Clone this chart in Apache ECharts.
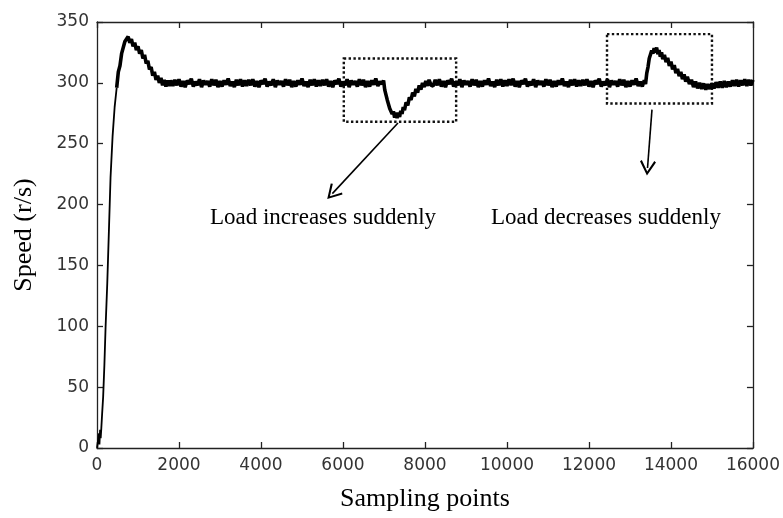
<!DOCTYPE html>
<html>
<head>
<meta charset="utf-8">
<title>Speed response</title>
<script src="https://cdn.jsdelivr.net/npm/echarts@6/dist/echarts.min.js"></script>
<style>
  html, body { margin: 0; padding: 0; background: #fff; }
  #chart { width: 783px; height: 518px; }
</style>
</head>
<body>
<div id="chart"></div>
<script>
// Axis ticks
const xTicks = [0, 2000, 4000, 6000, 8000, 10000, 12000, 14000, 16000];
const yTicks = [0, 50, 100, 150, 200, 250, 300, 350];

// Speed trace [sampling point, speed r/s], split by phase
const rampTrace = [[0,0],[30,0],[50,12],[60,3],[75,15],[90,8],[105,16],[125,28],[150,42],[180,68],[210,100],[250,135],[290,178],[330,222],[380,256],[430,280],[480,296]];

const overshootTrace = [[480,296],[520,309],[560,314],[600,324],[640,325],[680,334],[720,333],[760,338],[800,333],[840,336],[880,330],[920,333],[960,327],[1000,330],[1040,324],[1080,327],[1120,320],[1160,323],[1200,316],[1240,318],[1280,311],[1320,313],[1360,306],[1400,309],[1440,302.5],[1480,306],[1520,300],[1560,304],[1600,298],[1640,302.5],[1680,297],[1720,302],[1760,297.5],[1800,302]];

const steadyTraceA = [[1850,297.5],[1900,302.5],[1950,298],[2000,303],[2050,297],[2100,301.5],[2150,296.5],[2200,302],[2250,299],[2300,303.5],[2350,297],[2400,301],
  [2450,298],[2500,303],[2550,296.5],[2600,302],[2650,298.5],[2700,301.5],[2750,297],[2800,303],[2850,298],[2900,302.5],[2950,296.5],[3000,301.5],
  [3050,297],[3100,302],[3150,298.5],[3200,303.5],[3250,297.5],[3300,301],[3350,296.5],[3400,302.5],[3450,298],[3500,303],[3550,297],[3600,302],
  [3650,297.5],[3700,302.5],[3750,298],[3800,303],[3850,297],[3900,301.5],[3950,296.5],[4000,302],[4050,299],[4100,303.5],[4150,297],[4200,301],
  [4250,298],[4300,303],[4350,296.5],[4400,302],[4450,298.5],[4500,301.5],[4550,297],[4600,303],[4650,298],[4700,302.5],[4750,296.5],[4800,301.5],
  [4850,297],[4900,302],[4950,298.5],[5000,303.5],[5050,297.5],[5100,301],[5150,296.5],[5200,302.5],[5250,298],[5300,303],[5350,297],[5400,302],
  [5450,297.5],[5500,302.5],[5550,298],[5600,303],[5650,297],[5700,301.5],[5750,296.5],[5800,302],[5850,299],[5900,303.5],[5950,297],[6000,301],
  [6050,298],[6100,303],[6150,296.5],[6200,302],[6250,298.5],[6300,301.5],[6350,297],[6400,303],[6450,298],[6500,302.5],[6550,296.5],[6600,301.5],
  [6650,297],[6700,302],[6750,298.5],[6800,303.5],[6850,297.5],[6900,301],[6950,299]];

const loadIncreaseTrace = [[6990,302],[7020,294],[7050,293],[7080,286],[7110,286],[7140,279],[7170,280],[7200,274.5],[7230,276.5],[7260,271.5],[7290,275.5],[7320,271],[7350,275.5],[7380,272],[7410,277],[7440,274.5],[7470,280],[7500,277.5],[7540,284],[7580,281.5],[7620,288],[7660,286],[7700,292],[7740,289],[7780,295],[7820,292],[7860,298],[7900,294.5],[7940,300],[7980,296.5],[8020,301.5],[8060,297.5],[8100,302.5]];

const steadyTraceB = [[8150,298],[8200,297.5],[8250,302.5],[8300,298],[8350,303],[8400,297],[8450,301.5],[8500,296.5],[8550,302],[8600,299],[8650,303.5],[8700,297],[8750,301],
  [8800,298],[8850,303],[8900,296.5],[8950,302],[9000,298.5],[9050,301.5],[9100,297],[9150,303],[9200,298],[9250,302.5],[9300,296.5],[9350,301.5],
  [9400,297],[9450,302],[9500,298.5],[9550,303.5],[9600,297.5],[9650,301],[9700,296.5],[9750,302.5],[9800,298],[9850,303],[9900,297],[9950,302],
  [10000,297.5],[10050,303],[10100,298],[10150,303.5],[10200,297],[10250,301.5],[10300,296.5],[10350,302],[10400,299],[10450,303.5],[10500,297],[10550,301],
  [10600,298],[10650,303],[10700,296.5],[10750,302],[10800,298.5],[10850,301.5],[10900,297],[10950,303],[11000,298],[11050,302.5],[11100,296.5],[11150,301.5],
  [11200,297],[11250,302],[11300,298.5],[11350,303.5],[11400,297.5],[11450,301],[11500,296.5],[11550,302.5],[11600,298],[11650,303],[11700,297],[11750,302],
  [11800,297.5],[11850,302.5],[11900,298],[11950,303],[12000,297],[12050,301.5],[12100,296.5],[12150,302],[12200,299],[12250,303.5],[12300,297],[12350,301],
  [12400,298],[12450,303],[12500,296.5],[12550,302],[12600,298.5],[12650,301.5],[12700,297],[12750,303],[12800,298],[12850,302.5],[12900,296.5],[12950,301.5],
  [13000,297],[13050,302],[13100,298.5],[13150,303.5],[13200,297.5],[13250,301],[13300,297],[13350,302]];

const loadDecreaseTrace = [[13380,299],[13410,308],[13440,313],[13470,320],[13500,321],[13530,326.5],[13560,324],[13590,328.5],[13620,325],[13650,329],[13680,323.5],[13710,327],[13740,321.5],[13770,325],[13800,319.5],[13840,323],[13880,317],[13920,320.5],[13960,314],[14000,317.5],[14040,311],[14080,314.5],[14120,308],[14160,311.5],[14200,305.5],[14240,309],[14280,303],[14320,307],[14360,301],[14400,305],[14450,299],[14500,302.5],[14550,296.5],[14600,301],[14650,295.5],[14700,300],[14750,295],[14800,299.5],[14850,294.5],[14900,299],[14950,295],[15000,299.5]];

const tailTrace = [[15050,295.5],[15100,300.5],[15150,296],[15200,301],[15250,296],[15300,301.5],[15350,296.5],[15400,301],[15450,297],[15500,302],[15550,297.5],[15600,302.5],[15650,297],[15700,302],[15750,298],[15800,303],[15850,297.5],[15900,302.5],[15950,298],[16000,302.5]];

// Dotted boxes around the load disturbances: [x0, x1, yTop, yBottom]
const increaseBox = [6020, 8760, 320, 268];
const decreaseBox = [12440, 15000, 340, 283];

// Annotation arrows: [xFrom, yFrom, xTo, yTo]
const increaseArrow = [7341, 267, 5740, 209];
const decreaseArrow = [13537, 278, 13428, 230];

// Annotation captions: [text, x, y]
const increaseNote = ['Load increases suddenly', 5512, 189];
const decreaseNote = ['Load decreases suddenly', 12415, 189];

const settledTrace = [].concat(overshootTrace, steadyTraceA, loadIncreaseTrace, steadyTraceB, loadDecreaseTrace, tailTrace);

const chart = echarts.init(document.getElementById('chart'), null, { renderer: 'canvas' });

const frameColor = '#222';
const tickFont = { fontFamily: 'DejaVu Sans', fontSize: 17, color: '#333', formatter: v => String(v) };
const openArrow = 'path://M6,0 L12,11 L10.7,12 L6,3.2 L1.3,12 L0,11 Z';

function boxArea(b) {
  return [{ xAxis: b[0], yAxis: b[2] }, { xAxis: b[1], yAxis: b[3] }];
}
function arrowLine(a) {
  return [{ coord: [a[0], a[1]] }, { coord: [a[2], a[3]] }];
}
function note(n) {
  return { name: n[0], coord: [n[1], n[2]] };
}
function frameAxis(extra) {
  return Object.assign({
    type: 'value',
    axisLine: { show: true, onZero: false, lineStyle: { color: frameColor, width: 1.3 } },
    axisTick: { show: true, inside: true, length: 6, lineStyle: { color: frameColor, width: 1.3 } },
    splitLine: { show: false }
  }, extra);
}

const xRange = { min: xTicks[0], max: xTicks[xTicks.length - 1], interval: xTicks[1] - xTicks[0] };
const yRange = { min: yTicks[0], max: yTicks[yTicks.length - 1], interval: yTicks[1] - yTicks[0] };

const option = {
  animation: false,
  backgroundColor: '#fff',
  grid: { left: 97, right: 30, top: 22, bottom: 70, containLabel: false },
  xAxis: [
    frameAxis(Object.assign({
      position: 'bottom',
      name: 'Sampling points', nameLocation: 'middle', nameGap: 38,
      nameTextStyle: { fontFamily: 'Liberation Serif', fontSize: 26, color: '#000' },
      axisLabel: Object.assign({ margin: 9 }, tickFont)
    }, xRange)),
    frameAxis(Object.assign({ position: 'top', axisLabel: { show: false } }, xRange))
  ],
  yAxis: [
    frameAxis(Object.assign({
      position: 'left',
      name: 'Speed (r/s)', nameLocation: 'middle', nameGap: 60,
      nameTextStyle: { fontFamily: 'Liberation Serif', fontSize: 26, color: '#000' },
      axisLabel: Object.assign({ margin: 8 }, tickFont)
    }, yRange)),
    frameAxis(Object.assign({ position: 'right', axisLabel: { show: false } }, yRange))
  ],
  series: [
    {
      type: 'line',
      data: rampTrace,
      showSymbol: false,
      symbol: 'none',
      lineStyle: { color: '#000', width: 1.8 },
      z: 3
    },
    {
      type: 'line',
      data: settledTrace,
      showSymbol: false,
      symbol: 'none',
      sampling: null,
      lineStyle: { color: '#000', width: 3.6 },
      z: 3,
      markArea: {
        silent: true,
        itemStyle: { color: 'rgba(0,0,0,0)', borderColor: '#111', borderWidth: 2.4, borderType: [2.4, 2.4] },
        label: { show: false },
        data: [boxArea(increaseBox), boxArea(decreaseBox)]
      },
      markLine: {
        silent: true,
        symbol: ['none', openArrow],
        symbolSize: [16, 15],
        label: { show: false },
        lineStyle: { color: '#000', width: 1.6, type: 'solid' },
        emphasis: { disabled: true },
        data: [arrowLine(increaseArrow), arrowLine(decreaseArrow)]
      },
      markPoint: {
        silent: true,
        symbol: 'circle',
        symbolSize: 1,
        itemStyle: { color: 'rgba(0,0,0,0)' },
        label: {
          show: true, position: 'inside', formatter: '{b}',
          fontFamily: 'Liberation Serif', fontSize: 23, color: '#000'
        },
        data: [note(increaseNote), note(decreaseNote)]
      }
    }
  ]
};

chart.setOption(option);
</script>
</body>
</html>
